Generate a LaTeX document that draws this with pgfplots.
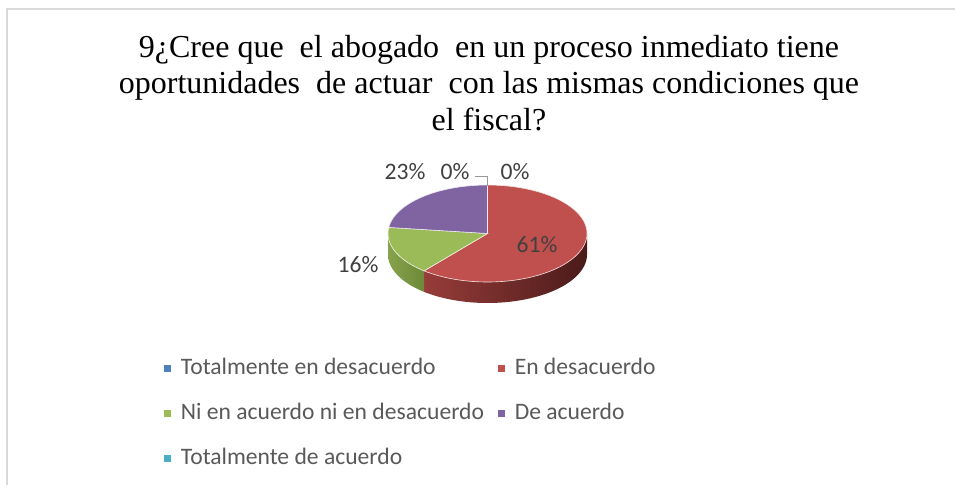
\documentclass[border=0pt]{standalone}
\usepackage{pgfplots}
\pgfplotsset{compat=1.18}
\usepackage{pgfplotstable}
\usepackage{fontspec}
\setmainfont{Liberation Serif}
\newfontfamily\calibri{Carlito}
\definecolor{cBlue}{HTML}{4F81BD}
\definecolor{cRed}{HTML}{C0504D}
\definecolor{cGreen}{HTML}{9BBB59}
\definecolor{cPurple}{HTML}{8064A2}
\definecolor{cCyan}{HTML}{4BACC6}
\definecolor{cRedSideL}{HTML}{973C39}
\definecolor{cRedSideR}{HTML}{4A1B1A}
\definecolor{cGreenSideL}{HTML}{86A24C}
\definecolor{cGreenSideR}{HTML}{6E8A38}
\definecolor{txt}{HTML}{404040}
\definecolor{legtxt}{HTML}{595959}
\definecolor{cFrame}{HTML}{D9D9D9}
\pgfplotstableread{
label value
TD 0
ED 61
NI 16
DA 23
TA 0
}\piedata
\begin{document}
\begin{tikzpicture}
\useasboundingbox (0,0) rectangle (955pt,485pt);
\pgfplotstablegetelem{0}{value}\of\piedata \let\vA\pgfplotsretval
\pgfplotstablegetelem{1}{value}\of\piedata \let\vB\pgfplotsretval
\pgfplotstablegetelem{2}{value}\of\piedata \let\vC\pgfplotsretval
\pgfplotstablegetelem{3}{value}\of\piedata \let\vD\pgfplotsretval
\pgfmathsetmacro\aB{90-3.6*\vA}
\pgfmathsetmacro\aC{\aB-3.6*\vB}
\pgfmathsetmacro\aD{\aC-3.6*\vC}
\pgfmathsetmacro\aE{\aD-3.6*\vD}
\pgfmathsetmacro\sRG{\aC+360}
\pgfmathsetmacro\xRG{487.5+99.5*cos(\sRG)}
\def\cx{487.5}\def\cy{251.5}\def\rx{99.5}\def\ry{48.5}\def\th{21}
\begin{axis}[
  at={(0,0)}, anchor=south west,
  width=955pt, height=485pt, scale only axis,
  xmin=0, xmax=955, ymin=0, ymax=485,
  hide axis, clip=false,
  legend columns=2,
  legend cell align=left,
  legend image code/.code={\fill[#1, draw=none] (0pt,-3.5pt) rectangle (7pt,3.5pt);},
  legend style={draw=none, fill=none, inner sep=0pt,
    at={(axis cs:164,128)}, anchor=north west,
    column sep=9.7pt,
    /tikz/every even column/.append style={column sep=14pt},
    row sep=23pt,
    nodes={inner sep=0pt, text height=17pt, text depth=5pt,
      font=\calibri\fontsize{23.6}{28}\selectfont, text=legtxt}},
]
% frame
\addplot[forget plot, cFrame, line width=1.2pt, mark=none] coordinates {(7,0) (7,476) (955,476)};
% side walls
\addplot[forget plot, draw=none, left color=cRedSideL, right color=cRedSideR,
  domain=\sRG:360, samples=60]
  ({\cx+\rx*cos(x)},{\cy-\th+\ry*sin(x)}) -- (axis cs:587,\cy) -- (axis cs:\xRG,\cy) -- cycle;
\addplot[forget plot, draw=none, left color=cGreenSideL, right color=cGreenSideR,
  domain=180:\sRG, samples=40]
  ({\cx+\rx*cos(x)},{\cy-\th+\ry*sin(x)}) -- (axis cs:\xRG,\cy) -- (axis cs:388,\cy) -- cycle;
% top faces
\addplot[forget plot, fill=cRed, draw=white!85!cRed, line width=0.6pt, domain=\aC:\aB, samples=90]
  ({\cx+\rx*cos(x)},{\cy+\ry*sin(x)}) -- (axis cs:\cx,\cy) -- cycle;
\addplot[forget plot, fill=cGreen, draw=white!85!cGreen, line width=0.6pt, domain=\aD:\aC, samples=40]
  ({\cx+\rx*cos(x)},{\cy+\ry*sin(x)}) -- (axis cs:\cx,\cy) -- cycle;
\addplot[forget plot, fill=cPurple, draw=white!85!cPurple, line width=0.6pt, domain=\aE:\aD, samples=40]
  ({\cx+\rx*cos(x)},{\cy+\ry*sin(x)}) -- (axis cs:\cx,\cy) -- cycle;
% leader line
\addplot[forget plot, gray!80, line width=0.8pt, mark=none] coordinates {(475,309) (487,309) (487,299)};
% data labels
\begin{scope}[every node/.style={font=\calibri\fontsize{23.6}{28}\selectfont, text=txt}]
\node at (axis cs:405,313) {23\%};
\node at (axis cs:455,313) {0\%};
\node at (axis cs:515,313) {0\%};
\node at (axis cs:537,240) {61\%};
\node at (axis cs:358,220) {16\%};
\end{scope}
% title
\begin{scope}[every node/.style={font=\fontsize{32}{37}\selectfont, anchor=base}]
\node at (axis cs:489,427.7) {9¿Cree que\ \ el abogado\ \ en un proceso inmediato tiene};
\node at (axis cs:489,391) {oportunidades\ \ de actuar\ \ con las mismas condiciones que};
\node at (axis cs:489,354) {el fiscal?};
\end{scope}
% legend
\addlegendimage{fill=cBlue}
\addlegendentry{Totalmente en desacuerdo}
\addlegendimage{fill=cRed}
\addlegendentry{En desacuerdo}
\addlegendimage{fill=cGreen}
\addlegendentry{Ni en acuerdo ni en desacuerdo}
\addlegendimage{fill=cPurple}
\addlegendentry{De acuerdo}
\addlegendimage{fill=cCyan}
\addlegendentry{Totalmente de acuerdo}
\end{axis}
\end{tikzpicture}
\end{document}
